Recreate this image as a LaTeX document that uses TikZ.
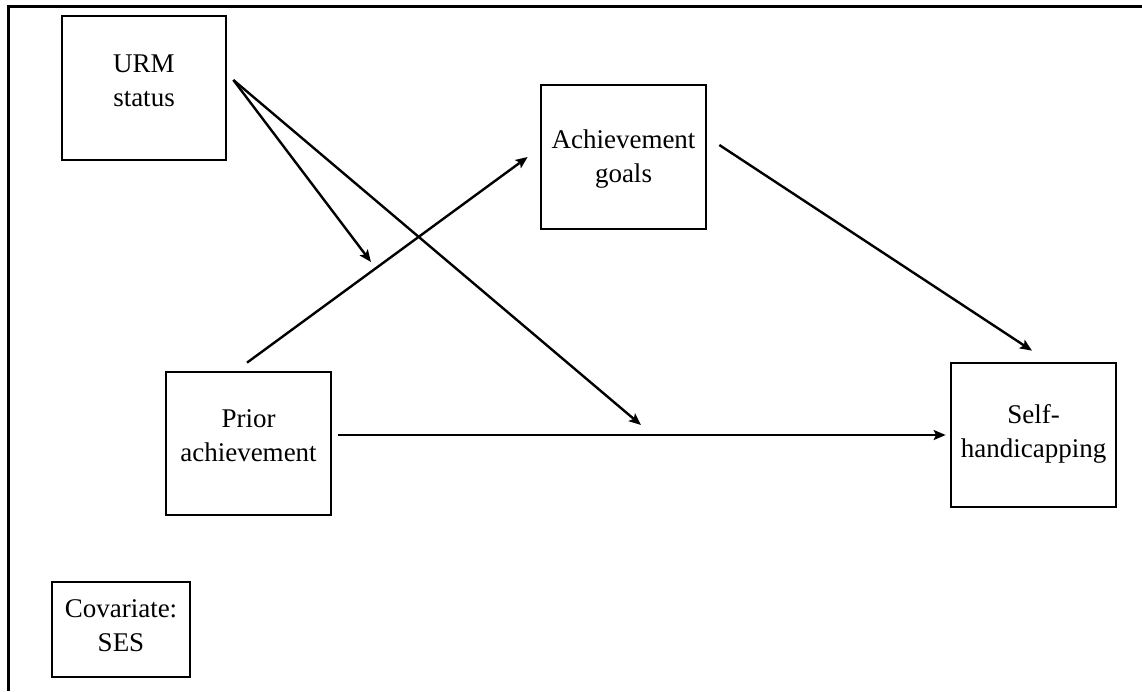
\documentclass[tikz,border=0pt]{standalone}
\usepackage{fontspec}
\setmainfont{Liberation Serif}
\usetikzlibrary{arrows.meta}
\tikzset{
  box/.style={draw, line width=2.7pt, inner sep=0pt, align=center,
    font=\fontsize{27}{34}\selectfont, text height=48pt, text depth=12pt},
  arr/.style={line width=2.4pt, -{Stealth[length=12pt,width=10pt,inset=2.5pt]}},
}
\begin{document}
\begin{tikzpicture}[x=1pt,y=-1pt]
\useasboundingbox (0,0) rectangle (1142,691);
\draw[line width=3pt] (1142,6) -- (8.5,6) -- (8.5,691);
\node[box, minimum width=164pt, minimum height=144pt] (urm) at (144,88) {URM\\status};
\node[box, minimum width=165pt, minimum height=144pt, text height=56pt, text depth=6pt] (goals) at (623.5,157) {Achievement\\goals};
\node[box, minimum width=165pt, minimum height=143pt] (prior) at (248.5,443.5) {Prior\\achievement};
\node[box, minimum width=165pt, minimum height=144pt, text height=52pt, text depth=8pt] (self) at (1033.5,435) {Self-\\handicapping};
\node[box, minimum width=138pt, minimum height=95pt, text height=52pt, text depth=8pt] (cov) at (121,629.5) {Covariate:\\SES};
\coordinate (m1) at (371,262);
\coordinate (m2) at (641,425);
\draw[arr] ([xshift=6pt,yshift=8pt]urm.east) -- (m1);
\draw[arr] ([xshift=6pt,yshift=8pt]urm.east) -- (m2);
\draw[arr] ([xshift=-1.5pt,yshift=8pt]prior.north) -- ([xshift=-12pt]goals.west);
\draw[arr] ([xshift=12pt,yshift=12pt]goals.east) -- ([xshift=-1.5pt,yshift=11pt]self.north);
\draw[arr] ([xshift=6pt]prior.east |- self.west) -- ([xshift=-4pt]self.west);
\end{tikzpicture}
\end{document}
